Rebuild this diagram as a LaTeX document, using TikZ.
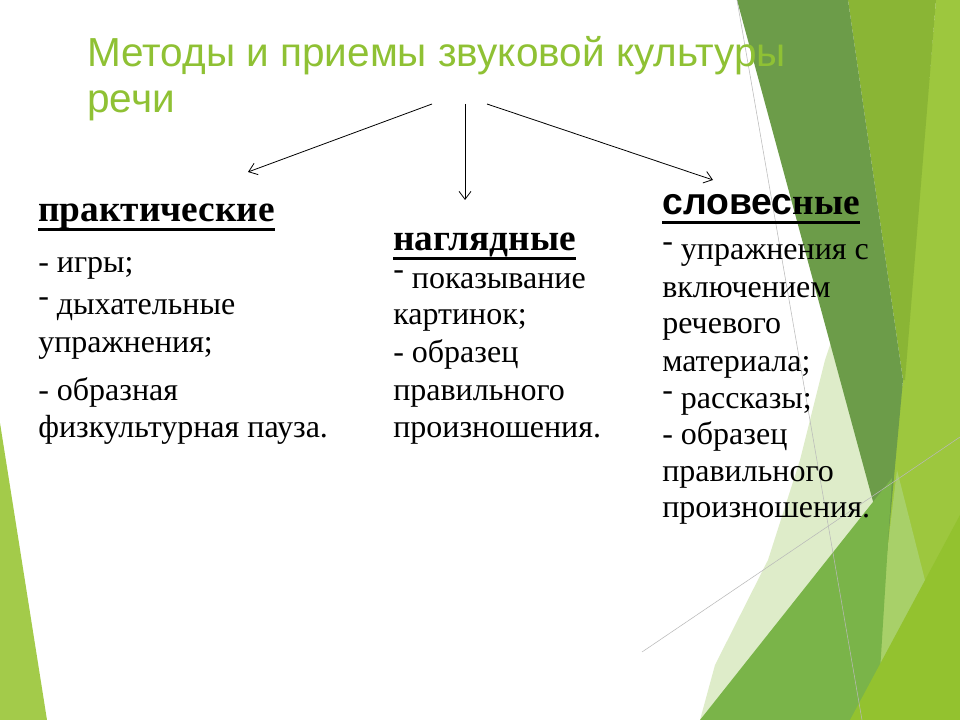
\documentclass[tikz,border=0pt]{standalone}
\usepackage{fontspec}
\setmainfont{Liberation Serif}
\newfontfamily\titlefont{Liberation Sans}
\usetikzlibrary{arrows.meta,calc}

\definecolor{facetgreen}{RGB}{143,193,52}
\definecolor{leafdark}{RGB}{108,156,73}
\definecolor{leafmid}{RGB}{138,181,53}
\definecolor{leaflight}{RGB}{157,199,62}
\definecolor{leafpale}{RGB}{222,236,201}
\definecolor{leafgrass}{RGB}{122,180,73}
\definecolor{leafyellow}{RGB}{147,194,47}
\definecolor{leaftint}{RGB}{168,208,105}
\definecolor{leafedge}{RGB}{163,203,74}

\newcommand{\hidash}{\raisebox{0.25em}[0pt][0pt]{-}}

\tikzset{
  titletext/.style={font=\titlefont\fontsize{30.4}{34}\selectfont, text=facetgreen, anchor=base west, inner sep=0pt},
  headtext/.style={font=\fontsize{28}{32}\selectfont\bfseries, anchor=base west, inner sep=0pt},
  itemtext/.style={font=\fontsize{24}{28}\selectfont, anchor=base west, inner sep=0pt},
  uline/.style={line width=2.2pt},
  branch/.style={-{Straight Barb[length=6pt,width=9pt]}, line width=0.6pt},
  facetline/.style={draw=gray!55, line width=0.4pt}
}

\begin{document}
\begin{tikzpicture}[x=0.75pt,y=-0.75pt]
        \useasboundingbox (0,0) rectangle (960,720);
        \fill[white] (0,0) rectangle (960,720);

        % Background facets
        \fill[leafedge] (0,423) -- (47,720) -- (0,720) -- cycle;
        \fill[leaflight] (936,0) -- (960,0) -- (960,720) -- (860,720) -- (903,380) -- cycle;
        \fill[leafmid] (848,0) -- (936,0) -- (905,380) -- (903,380) -- cycle;
        \fill[leafpale] (845,300) -- (887,553) -- (877,720) -- (700,720) -- (715,665) -- (768,560) -- (800,460) -- (825,360) -- cycle;
        \fill[leaftint] (897,470) -- (930,600) -- (885,720) -- (870,720) -- (887,553) -- cycle;
        \fill[leafdark] (737,0) -- (848,0) -- (903,380) -- (887,553) -- cycle;
        \fill[leafgrass] (700,720) -- (892,478) -- (877,720) -- cycle;
        \fill[leafyellow] (850,720) -- (960,515) -- (960,720) -- cycle;
        \draw[facetline] (737,0) -- (862,720);
        \draw[facetline] (642,652) -- (960,437);

        % Title
        \node[titletext] (title a) at (87,67) {Методы и приемы звуковой культуры};
        \node[titletext] (title b) at (87,113) {речи};

        % Branches
        \coordinate (fork l) at (432,104);
        \coordinate (fork m) at (465,104);
        \coordinate (fork r) at (487,104);
        \coordinate (tip l) at (248,172);
        \coordinate (tip m) at (465,200);
        \coordinate (tip r) at (713,180);
        \draw[branch] (fork l) -- (tip l);
        \draw[branch] (fork m) -- (tip m);
        \draw[branch] (fork r) -- (tip r);

        % Practical methods
        \node[headtext] (prak) at (38,222) {практические};
        \draw[uline] ($(prak.base west)+(0,7.5)$) -- ($(prak.base east)+(0,7.5)$);
        \node[itemtext] (prak 1) at (38,273) {- игры;};
        \node[itemtext] (prak 2) at (38,315) {\hidash{} дыхательные};
        \node[itemtext] (prak 3) at (38,352) {упражнения;};
        \node[itemtext] (prak 4) at (38,400) {- образная};
        \node[itemtext] (prak 5) at (38,437) {физкультурная пауза.};

        % Visual methods
        \node[headtext] (nagl) at (393,251) {наглядные};
        \draw[uline] ($(nagl.base west)+(0,7.5)$) -- ($(nagl.base east)+(0,7.5)$);
        \node[itemtext] (nagl 1) at (393,288) {\hidash{} показывание};
        \node[itemtext] (nagl 2) at (393,325) {картинок;};
        \node[itemtext] (nagl 3) at (393,362) {- образец};
        \node[itemtext] (nagl 4) at (393,400) {правильного};
        \node[itemtext] (nagl 5) at (393,437) {произношения.};

        % Verbal methods
        \node[headtext] (slov) at (662,215) {{\titlefont словес}ные};
        \draw[uline] ($(slov.base west)+(0,7.5)$) -- ($(slov.base east)+(0,7.5)$);
        \node[itemtext] (slov 1) at (662,260) {\hidash{} упражнения с};
        \node[itemtext] (slov 2) at (662,297) {включением};
        \node[itemtext] (slov 3) at (662,334) {речевого};
        \node[itemtext] (slov 4) at (662,371) {материала;};
        \node[itemtext] (slov 5) at (662,408) {\hidash{} рассказы;};
        \node[itemtext] (slov 6) at (662,444) {- образец};
        \node[itemtext] (slov 7) at (662,481) {правильного};
        \node[itemtext] (slov 8) at (662,517) {произношения.};
\end{tikzpicture}
\end{document}
